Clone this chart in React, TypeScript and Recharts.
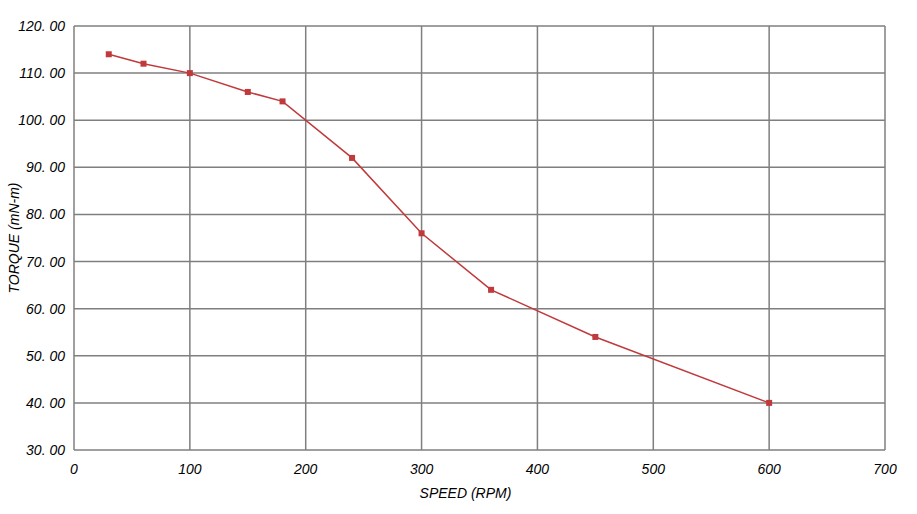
import React from 'react';
import { LineChart, Line, XAxis, YAxis, CartesianGrid, Label } from 'recharts';

const speeds = [30, 60, 100, 150, 180, 240, 300, 360, 450, 600];
const torques = [114, 112, 110, 106, 104, 92, 76, 64, 54, 40];
const xTicks = [0, 100, 200, 300, 400, 500, 600, 700];
const yTicks = [30, 40, 50, 60, 70, 80, 90, 100, 110, 120];

const data = speeds.map((s, i) => ({ speed: s, torque: torques[i] }));

const font = '"Liberation Sans", Arial, sans-serif';
const textStyle = { fill: '#000', fontSize: 14, fontStyle: 'italic', fontFamily: font };

const SquareDot = (props: any) => {
  const { cx, cy } = props;
  if (cx == null || cy == null) return null;
  return <rect x={cx - 3} y={cy - 3} width={6} height={6} fill="#c0393b" />;
};

export default function App() {
  return (
    <div style={{ position: 'absolute', left: 0, top: 0, background: '#fff' }}>
      <LineChart width={917} height={514} data={data} margin={{ top: 26, right: 32, bottom: 0, left: 0 }}>
        <CartesianGrid stroke="#7f7f7f" strokeWidth={1.5} horizontalValues={yTicks} verticalValues={xTicks} />
        <XAxis
          dataKey="speed"
          type="number"
          domain={[0, 700]}
          ticks={xTicks}
          axisLine={false}
          tickLine={false}
          height={64}
          tickMargin={8}
          tick={textStyle}
        >
          <Label value="SPEED (RPM)" position="insideBottom" offset={16} dx={-14} style={textStyle} />
        </XAxis>
        <YAxis
          type="number"
          domain={[30, 120]}
          ticks={yTicks}
          axisLine={false}
          tickLine={false}
          width={74}
          tickMargin={3}
          tickFormatter={(v: number) => v.toFixed(2).replace('.', '. ')}
          tick={textStyle}
        >
          <Label value="TORQUE (mN-m)" angle={-90} position="insideLeft" offset={14}
            style={{ ...textStyle, textAnchor: 'middle' }} />
        </YAxis>
        <Line
          dataKey="torque"
          stroke="#c0393b"
          strokeWidth={1.5}
          dot={<SquareDot />}
          activeDot={false}
          isAnimationActive={false}
        />
      </LineChart>
    </div>
  );
}
